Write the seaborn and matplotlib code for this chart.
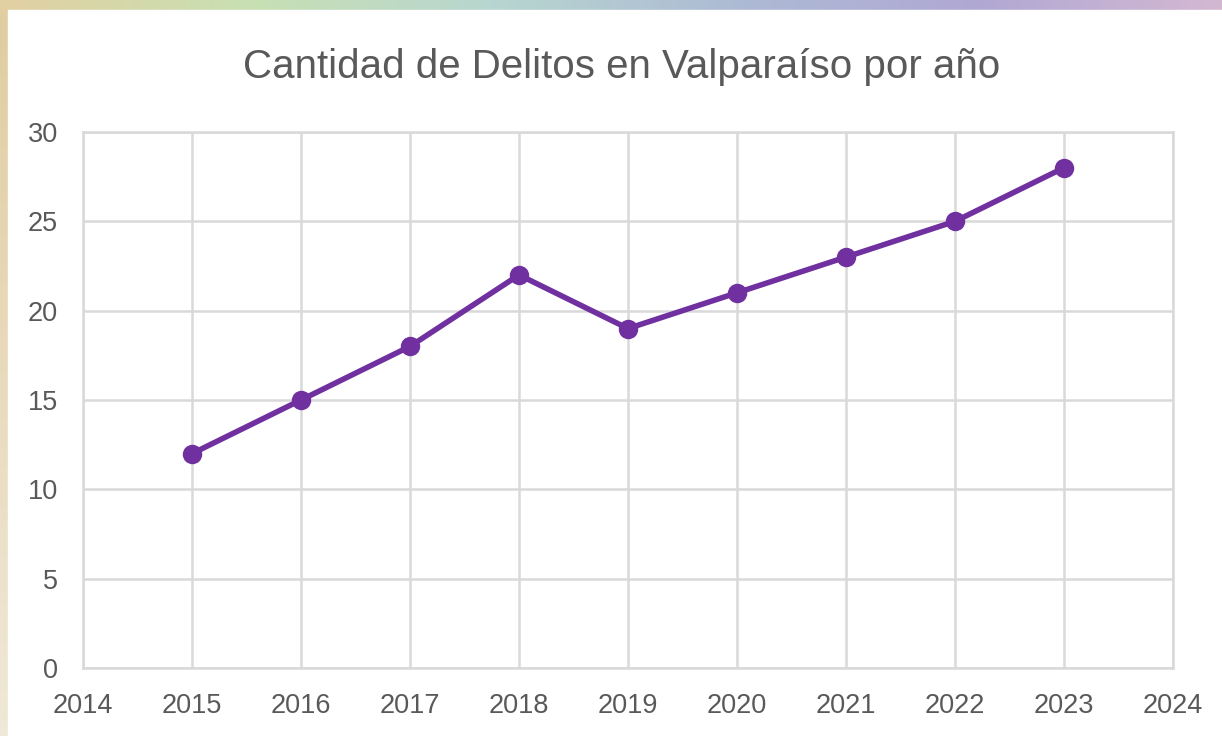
import numpy as np
import pandas as pd
import matplotlib.pyplot as plt
import seaborn as sns
from matplotlib.colors import LinearSegmentedColormap

# datos del grafico
years = [2015, 2016, 2017, 2018, 2019, 2020, 2021, 2022, 2023]
delitos = [12, 15, 18, 22, 19, 21, 23, 25, 28]
x_ticks = list(range(2014, 2025))
y_ticks = [0, 5, 10, 15, 20, 25, 30]

df = pd.DataFrame({"year": years, "delitos": delitos})

sns.set_theme(style="white")
plt.rcParams["font.family"] = ["Liberation Sans Narrow", "Liberation Sans", "DejaVu Sans"]

text_color = "#595959"
grid_color = "#D9D9D9"
line_color = "#7030A0"

fig = plt.figure(figsize=(12.22, 7.36), dpi=100)

# fondo degradado (barra superior y franja izquierda)
bg = fig.add_axes([0, 0, 1, 1], zorder=-2)
top_cmap = LinearSegmentedColormap.from_list(
    "top", ["#E2D0A2", "#C8E0B2", "#B8D6D0", "#ADBBD4", "#B0A8D4", "#D4B8D2"]
)
grad = np.linspace(0, 1, 512)[None, :]
bg.imshow(grad, aspect="auto", cmap=top_cmap, extent=[0, 1, 0, 1])
left_cmap = LinearSegmentedColormap.from_list("left", ["#F0E8D8", "#E0CDA0"])
bg.imshow(np.linspace(0, 1, 256)[:, None], aspect="auto", cmap=left_cmap,
          extent=[0, 8 / 1222, 0, 1 - 10 / 736], origin="lower")
bg.add_patch(plt.Rectangle((8 / 1222, 0), 1, 1 - 10 / 736, color="white", zorder=3))
bg.set_xlim(0, 1)
bg.set_ylim(0, 1)
bg.axis("off")

ax = fig.add_axes([83 / 1222, 1 - 668 / 736, 1090 / 1222, 536 / 736])
sns.lineplot(data=df, x="year", y="delitos", ax=ax, color=line_color,
             linewidth=4, marker="o", markersize=14, markeredgewidth=0,
             zorder=3)

ax.set_xlim(2014, 2024)
ax.set_ylim(0, 30)
ax.set_xticks(x_ticks)
ax.set_yticks(y_ticks)
ax.grid(True, color=grid_color, linewidth=1.8)
ax.set_axisbelow(True)
for s in ax.spines.values():
    s.set_color(grid_color)
    s.set_linewidth(1.8)
ax.tick_params(axis="both", length=0, labelsize=19.5, labelcolor=text_color)
ax.tick_params(axis="x", pad=18)
ax.tick_params(axis="y", pad=18)
ax.set_xlabel("")
ax.set_ylabel("")

fig.text(0.509, 1 - 67 / 736, "Cantidad de Delitos en Valparaíso por año",
         ha="center", va="center", fontsize=29, color=text_color)

fig.savefig("out.png", dpi=100)
